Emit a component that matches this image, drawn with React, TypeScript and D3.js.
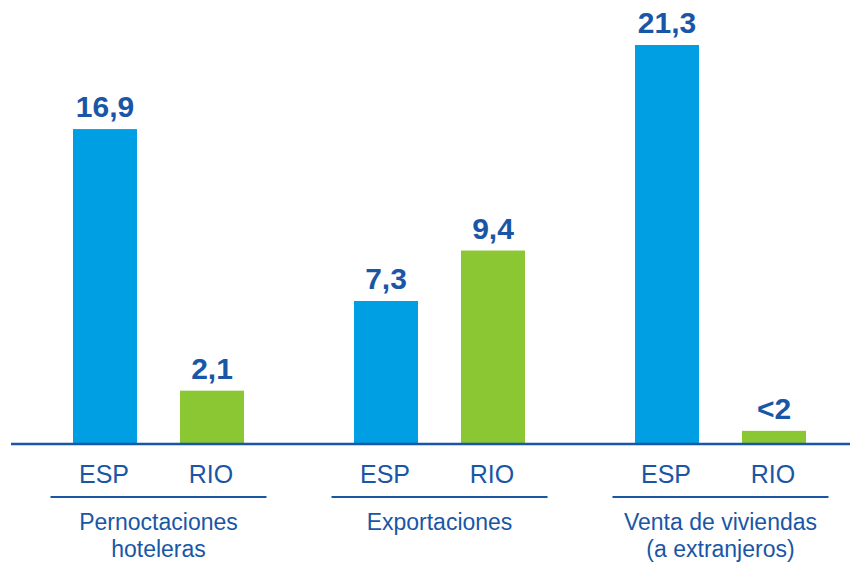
import React from 'react';
import * as d3 from 'd3';

// grupos y series
const groups = ['Pernoctaciones|hoteleras', 'Exportaciones', 'Venta de viviendas|(a extranjeros)'];
const series = ['ESP', 'RIO'];
// altura de barra (no es proporcional a la etiqueta en el original)
const espBars = [16.8, 7.6, 21.3];
const rioBars = [2.8, 10.3, 0.65];
// etiquetas tal como aparecen
const espLabels = ['16,9', '7,3', '21,3'];
const rioLabels = ['2,1', '9,4', '<2'];

const W = 850;
const H = 562;
const baseY = 443;
const blue = '#009FE3';
const green = '#8AC733';
const ink = '#1A56A6';
const font = '"Liberation Sans", Arial, sans-serif';

export default function App() {
  const x0 = d3.scaleBand().domain(groups).range([18, 861]);
  const x1 = d3.scaleBand().domain(series).range([-107, 107]).paddingInner(0.402).paddingOuter(0.201);
  const y = d3.scaleLinear().domain([0, 21.3]).range([baseY, 45]);

  const rows = groups.map((g, i) => ({
    g,
    bars: [
      { s: 'ESP', v: espBars[i], label: espLabels[i], color: blue },
      { s: 'RIO', v: rioBars[i], label: rioLabels[i], color: green },
    ],
  }));

  return (
    <svg width={W} height={H} style={{ position: 'absolute', left: 0, top: 0 }} fontFamily={font}>
      <rect width={W} height={H} fill="#fff" />
      {rows.map((r) => {
        const gc = (x0(r.g) as number) + x0.bandwidth() / 2;
        return (
          <g key={r.g} transform={`translate(${gc},0)`}>
            {r.bars.map((b) => {
              const bx = x1(b.s) as number;
              return (
                <g key={b.s}>
                  <rect x={bx} y={y(b.v)} width={x1.bandwidth()} height={baseY - y(b.v)} fill={b.color} />
                  <text x={bx + x1.bandwidth() / 2} y={y(b.v) - 12} textAnchor="middle"
                    fontSize={30} fontWeight="bold" fill={ink}>{b.label}</text>
                  <text x={bx + x1.bandwidth() / 2 - 1} y={483} textAnchor="middle"
                    fontSize={25} fill={ink}>{b.s}</text>
                </g>
              );
            })}
            <line x1={-108} x2={108} y1={497} y2={497} stroke={ink} strokeWidth={2} />
            {r.g.split('|').map((t, k) => (
              <text key={k} x={0} y={530 + k * 27} textAnchor="middle" fontSize={23} fill={ink}>{t}</text>
            ))}
          </g>
        );
      })}
      <line x1={11} x2={W} y1={baseY + 1} y2={baseY + 1} stroke={ink} strokeWidth={2.5} />
    </svg>
  );
}
